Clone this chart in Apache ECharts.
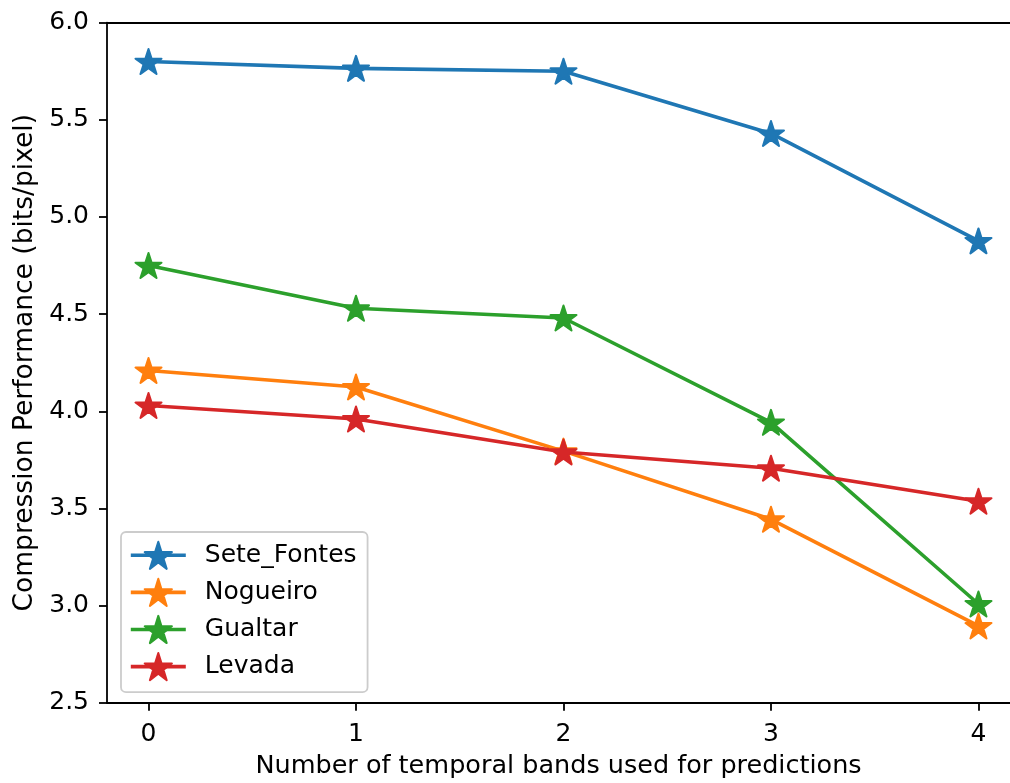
<!DOCTYPE html>
<html>
<head>
<meta charset="utf-8">
<title>Compression performance vs temporal bands</title>
<script src="https://cdn.jsdelivr.net/npm/echarts@6/dist/echarts.min.js"></script>
<style>
  html, body { margin: 0; padding: 0; background: #ffffff; }
  #chart { width: 1010px; height: 783px; }
</style>
</head>
<body>
<div id="chart"></div>
<script>
// Number of temporal bands used for the prediction
const bands = [0, 1, 2, 3, 4];

// Compression performance (bits/pixel) per test site
const seteFontes = [5.80, 5.765, 5.75, 5.43, 4.877];
const nogueiro   = [4.21, 4.125, 3.795, 3.444, 2.895];
const gualtar    = [4.75, 4.53, 4.48, 3.943, 3.008];
const levada     = [4.03, 3.96, 3.79, 3.707, 3.537];

const siteNames  = ['Sete_Fontes', 'Nogueiro', 'Gualtar', 'Levada'];
const siteValues = [seteFontes, nogueiro, gualtar, levada];
const siteColors = ['#1f77b4', '#ff7f0e', '#2ca02c', '#d62728'];

const yTicks = [2.5, 3.0, 3.5, 4.0, 4.5, 5.0, 5.5, 6.0];

// Five-pointed star marker (inner radius ≈ 0.382 of outer)
const STAR = 'path://M0,-1 L0.2245,-0.309 L0.9511,-0.309 L0.3633,0.118 L0.5878,0.809 ' +
             'L0,0.382 L-0.5878,0.809 L-0.3633,0.118 L-0.9511,-0.309 L-0.2245,-0.309 Z';

const FONT = 'DejaVu Sans';
const FS = 25;        // tick labels and legend
const FS_X = 25.5;    // x title
const FS_Y = 26.5;    // y title
const AXIS_W = 1.8;
const LINE_W = 3.6;

const X_MIN = -0.2, X_MAX = 4.152;

const chart = echarts.init(document.getElementById('chart'), null, { renderer: 'canvas' });

const series = siteNames.map((name, i) => ({
  name: name,
  type: 'line',
  xAxisIndex: 0,
  data: bands.map((b, k) => [b, siteValues[i][k]]),
  symbol: STAR,
  symbolSize: [26, 25],
  showSymbol: true,
  color: siteColors[i],
  lineStyle: { color: siteColors[i], width: LINE_W },
  itemStyle: { color: siteColors[i], borderColor: siteColors[i], borderWidth: 2, borderJoin: 'round' },
  emphasis: { disabled: true },
  animation: false
}));

chart.setOption({
  backgroundColor: '#ffffff',
  animation: false,
  textStyle: { fontFamily: FONT, color: '#000' },
  grid: {
    left: 107,
    top: 22.7,
    right: 0,
    bottom: 80.3,
    show: false,
    containLabel: false,
    outerBoundsMode: 'none'
  },
  legend: {
    orient: 'vertical',
    left: 121,
    top: 532,
    padding: [8.7, 11, 11, 8],
    itemWidth: 55,
    itemHeight: 34,
    itemGap: 7.9,
    backgroundColor: 'rgba(255,255,255,0.8)',
    borderColor: '#cccccc',
    borderWidth: 1.8,
    borderRadius: 5,
    lineStyle: { width: LINE_W },
    textStyle: { fontFamily: FONT, fontSize: FS, lineHeight: 27, color: '#000', padding: [0, 0, 0, 14] },
    data: siteNames
  },
  xAxis: [{
    type: 'value',
    min: X_MIN,
    max: X_MAX,
    name: 'Number of temporal bands used for predictions',
    nameLocation: 'middle',
    nameGap: 51,
    nameTextStyle: { fontFamily: FONT, fontSize: FS_X, color: '#000' },
    axisLine: { show: true, onZero: false, lineStyle: { color: '#000', width: AXIS_W } },
    axisTick: { show: true, length: 8, lineStyle: { color: '#000', width: AXIS_W }, customValues: bands },
    axisLabel: {
      fontFamily: FONT, fontSize: FS, color: '#000', margin: 19,
      customValues: bands,
      formatter: v => String(v)
    },
    splitLine: { show: false }
  }, {
    // top frame line
    type: 'value',
    position: 'top',
    min: X_MIN,
    max: X_MAX,
    axisLine: { show: true, onZero: false, lineStyle: { color: '#000', width: AXIS_W } },
    axisTick: { show: false },
    axisLabel: { show: false },
    splitLine: { show: false }
  }],
  yAxis: {
    type: 'value',
    min: 2.5,
    max: 6.0,
    interval: 0.5,
    name: 'Compression Performance (bits/pixel)',
    nameLocation: 'middle',
    nameGap: 66,
    nameRotate: 90,
    nameTextStyle: { fontFamily: FONT, fontSize: FS_Y, color: '#000' },
    axisLine: { show: true, onZero: false, lineStyle: { color: '#000', width: AXIS_W } },
    axisTick: { show: true, length: 8, lineStyle: { color: '#000', width: AXIS_W }, customValues: yTicks },
    axisLabel: {
      fontFamily: FONT, fontSize: FS, color: '#000', margin: 18,
      customValues: yTicks,
      formatter: v => v.toFixed(1)
    },
    splitLine: { show: false }
  },
  series: series
});
</script>
</body>
</html>
